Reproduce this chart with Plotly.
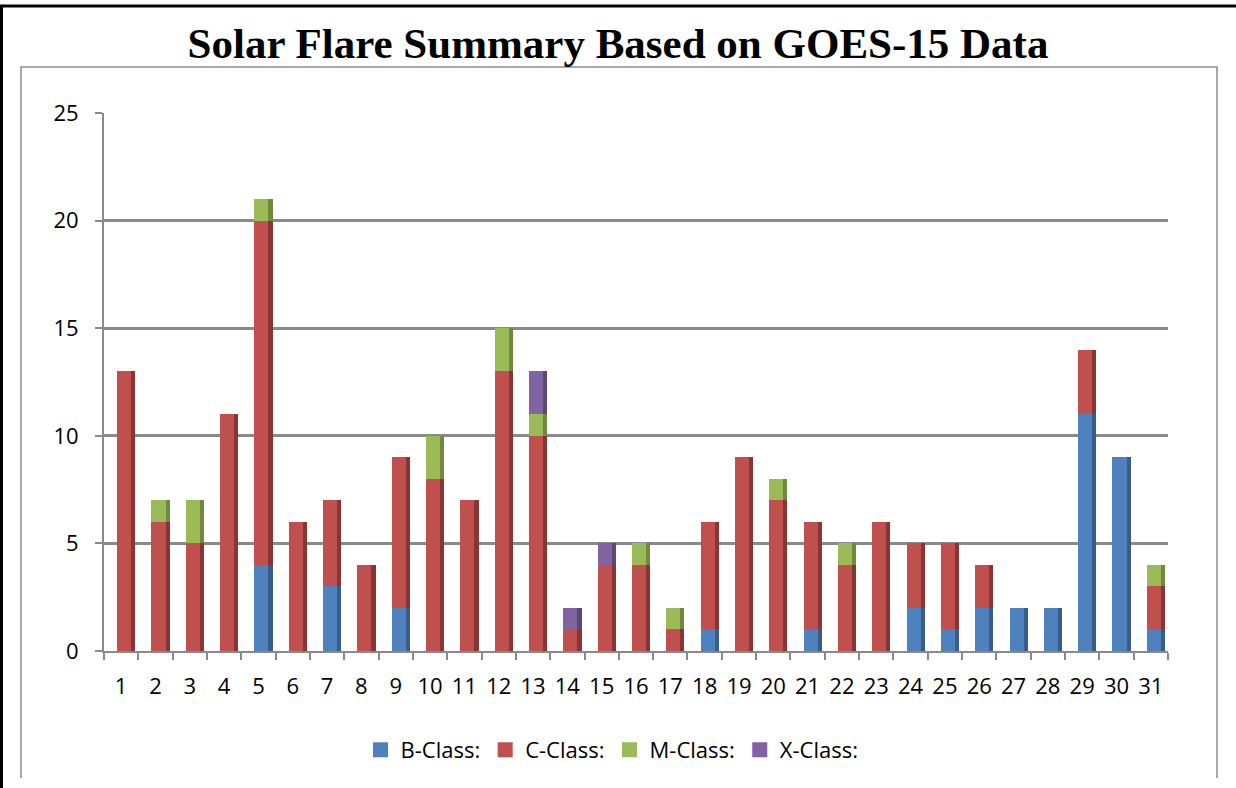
import plotly.graph_objects as go

days = [str(d) for d in range(1, 32)]
b_class = [0, 0, 0, 0, 4, 0, 3, 0, 2, 0, 0, 0, 0, 0, 0, 0, 0, 1, 0, 0, 1, 0, 0, 2, 1, 2, 2, 2, 11, 9, 1]
c_class = [13, 6, 5, 11, 16, 6, 4, 4, 7, 8, 7, 13, 10, 1, 4, 4, 1, 5, 9, 7, 5, 4, 6, 3, 4, 2, 0, 0, 3, 0, 2]
m_class = [0, 1, 2, 0, 1, 0, 0, 0, 0, 2, 0, 2, 1, 0, 0, 1, 1, 0, 0, 1, 0, 1, 0, 0, 0, 0, 0, 0, 0, 0, 1]
x_class = [0, 0, 0, 0, 0, 0, 0, 0, 0, 0, 0, 0, 2, 1, 1, 0, 0, 0, 0, 0, 0, 0, 0, 0, 0, 0, 0, 0, 0, 0, 0]

series_names = ["B-Class:", "C-Class:", "M-Class:", "X-Class:"]
series_values = [b_class, c_class, m_class, x_class]
front_colors = ["#4F81BD", "#C0504D", "#9BBB59", "#8064A2"]
side_colors = ["#385D8A", "#8A3533", "#71893F", "#5C4776"]

W, H = 1236, 788
L, R, T, B = 104, 68, 113, 137
PW, PH = W - L - R, H - T - B


def fx(px):
    return (px - L) / PW


def fy(py):
    return (H - B - py) / PH


fig = go.Figure()
for name, vals, fc in zip(series_names, series_values, front_colors):
    fig.add_trace(go.Bar(x=days, y=vals, name=name, marker=dict(color=fc, line=dict(width=0)),
                         width=0.41, offset=-0.118, xaxis="x", yaxis="y", showlegend=False))
for name, vals, sc in zip(series_names, series_values, side_colors):
    fig.add_trace(go.Bar(x=days, y=vals, name=name, marker=dict(color=sc, line=dict(width=0)),
                         width=0.12, offset=0.292, xaxis="x2", yaxis="y", showlegend=False))
# legend entries (square swatches)
for name, fc in zip(series_names, front_colors):
    fig.add_trace(go.Scatter(x=[None], y=[None], mode="markers", name=name,
                             marker=dict(symbol="square", size=15, color=fc), xaxis="x", yaxis="y"))

font_main = "Open Sans"
grid_col = "#8a8a8a"

shapes = [
    dict(type="line", xref="paper", yref="paper", x0=fx(0), x1=fx(W), y0=fy(6), y1=fy(6),
         line=dict(color="black", width=3)),
    dict(type="line", xref="paper", yref="paper", x0=fx(1.5), x1=fx(1.5), y0=fy(5), y1=fy(H),
         line=dict(color="black", width=3)),
    dict(type="path", xref="paper", yref="paper",
         path=f"M {fx(21)},{fy(778)} L {fx(21)},{fy(67)} L {fx(1217)},{fy(67)} L {fx(1217)},{fy(778)}",
         line=dict(color="#8c8c8c", width=1.5)),
]

fig.update_layout(
    width=W, height=H,
    margin=dict(l=L, r=R, t=T, b=B, autoexpand=False),
    paper_bgcolor="white", plot_bgcolor="white",
    barmode="stack",
    title=dict(text="Solar Flare Summary Based on GOES-15 Data", x=0.5, xanchor="center",
               y=1 - 43 / H, yanchor="middle",
               font=dict(family="Liberation Serif", size=43, color="black", weight="bold")),
    xaxis=dict(type="category", range=[-0.5, 30.5], tickson="boundaries", ticks="outside",
               ticklen=7, tickcolor=grid_col, tickwidth=2, showline=True, linecolor=grid_col,
               linewidth=2, showgrid=False, ticklabelstandoff=15, tickangle=0,
               tickfont=dict(family=font_main, size=22, color="black")),
    xaxis2=dict(type="category", range=[-0.5, 30.5], overlaying="x", visible=False),
    yaxis=dict(range=[0, 25], tickvals=[0, 5, 10, 15, 20, 25], ticks="outside", ticklen=7,
               tickcolor=grid_col, tickwidth=2, showline=True, linecolor=grid_col, linewidth=2,
               showgrid=True, gridcolor=grid_col, gridwidth=2.5, zeroline=False,
               ticklabelstandoff=12,
               tickfont=dict(family=font_main, size=22, color="black")),
    legend=dict(orientation="h", x=fx(612), xanchor="center", y=fy(750), yanchor="middle",
                font=dict(family=font_main, size=22, color="black"), traceorder="normal"),
    shapes=shapes,
)

fig.write_html("out.html", post_script="document.body.style.margin='0px';",
               config={"displayModeBar": False})
